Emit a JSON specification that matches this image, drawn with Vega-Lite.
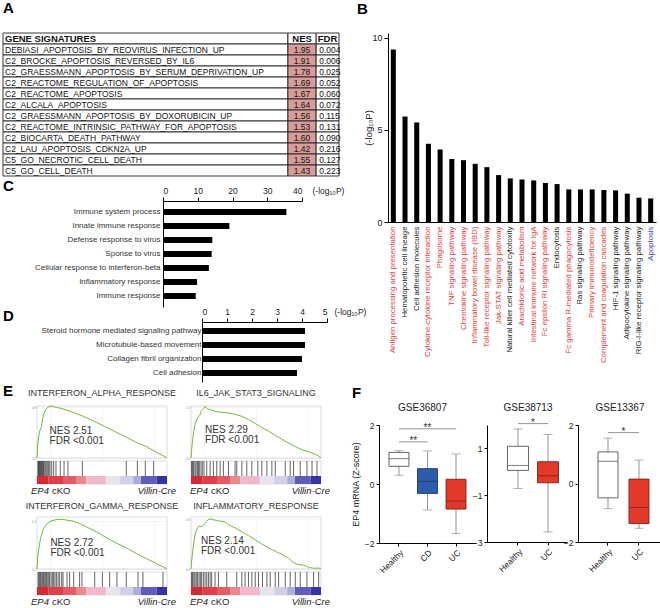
{
  "$schema": "https://vega.github.io/schema/vega-lite/v6.json",
  "padding": {"left": 2, "top": 0, "right": 0, "bottom": 0},
  "background": "#ffffff",
  "config": {
    "font": "Liberation Sans",
    "view": {"stroke": null},
    "axis": {"labelFont": "Liberation Sans", "titleFont": "Liberation Sans", "domainColor": "#000000", "tickColor": "#000000", "labelColor": "#222222", "titleColor": "#222222", "titleFontWeight": "normal", "grid": false, "domainWidth": 1, "tickWidth": 1},
    "title": {"font": "Liberation Sans", "color": "#000000"},
    "text": {"font": "Liberation Sans"}
  },
  "resolve": {"scale": {"color": "independent", "fill": "independent", "stroke": "independent"}},
  "datasets": {
    "one": [{"k": 1}],
    "tbl": [
      {"row": 0, "sig": "GENE SIGNATURES", "nes": "NES", "fdr": "FDR"},
      {"row": 1, "sig": "DEBIASI_APOPTOSIS_BY_REOVIRUS_INFECTION_UP", "nes": "1.95", "fdr": "0.004"},
      {"row": 2, "sig": "C2_BROCKE_APOPTOSIS_REVERSED_BY_IL6", "nes": "1.91", "fdr": "0.006"},
      {"row": 3, "sig": "C2_GRAESSMANN_APOPTOSIS_BY_SERUM_DEPRIVATION_UP", "nes": "1.78", "fdr": "0.025"},
      {"row": 4, "sig": "C2_REACTOME_REGULATION_OF_APOPTOSIS", "nes": "1.69", "fdr": "0.052"},
      {"row": 5, "sig": "C2_REACTOME_APOPTOSIS", "nes": "1.67", "fdr": "0.060"},
      {"row": 6, "sig": "C2_ALCALA_APOPTOSIS", "nes": "1.64", "fdr": "0.072"},
      {"row": 7, "sig": "C2_GRAESSMANN_APOPTOSIS_BY_DOXORUBICIN_UP", "nes": "1.56", "fdr": "0.115"},
      {"row": 8, "sig": "C2_REACTOME_INTRINSIC_PATHWAY_FOR_APOPTOSIS", "nes": "1.53", "fdr": "0.131"},
      {"row": 9, "sig": "C2_BIOCARTA_DEATH_PATHWAY", "nes": "1.60", "fdr": "0.090"},
      {"row": 10, "sig": "C2_LAU_APOPTOSIS_CDKN2A_UP", "nes": "1.42", "fdr": "0.216"},
      {"row": 11, "sig": "C5_GO_NECROTIC_CELL_DEATH", "nes": "1.55", "fdr": "0.127"},
      {"row": 12, "sig": "C5_GO_CELL_DEATH", "nes": "1.43", "fdr": "0.223"}
    ],
    "goc": [
      {"term": "Immune system process", "p": 35.5},
      {"term": "Innate immune response", "p": 19.1},
      {"term": "Defense response to virus", "p": 14.2},
      {"term": "Sponse to virus", "p": 14.0},
      {"term": "Cellular response to interferon-beta", "p": 13.2},
      {"term": "Inflammatory response", "p": 9.8},
      {"term": "Immune response", "p": 9.4}
    ],
    "god": [
      {"term": "Steroid hormone mediated signaling pathway", "p": 4.12},
      {"term": "Microtubule-based movement", "p": 4.12},
      {"term": "Collagen fibril organization", "p": 4.0},
      {"term": "Cell adhesion", "p": 3.8}
    ],
    "kegg": [
      {"pathway": "Antigen processing and presentation", "p": 9.37},
      {"pathway": "Hematopoietic cell lineage", "p": 5.73},
      {"pathway": "Cell adhesion molecules", "p": 5.41},
      {"pathway": "Cytokine-cytokine receptor interaction", "p": 4.25},
      {"pathway": "Phagosome", "p": 3.94},
      {"pathway": "TNF signaling pathway", "p": 3.42},
      {"pathway": "Chemokine signaling pathway", "p": 3.36},
      {"pathway": "Inflammatory bowel disease (IBD)", "p": 3.16},
      {"pathway": "Toll-like receptor signaling pathway", "p": 2.98},
      {"pathway": "Jak-STAT signaling pathway", "p": 2.55},
      {"pathway": "Natural killer cell mediated cytotoxity", "p": 2.37},
      {"pathway": "Arachidonic acid metabolism", "p": 2.31},
      {"pathway": "Intestinal immune network for IgA", "p": 2.26},
      {"pathway": "Fc epsilon RI signaling pathway", "p": 2.12},
      {"pathway": "Endocytosis", "p": 2.06},
      {"pathway": "Fc gamma R-mediated phagocytosis", "p": 1.77},
      {"pathway": "Ras signaling pathway", "p": 1.77},
      {"pathway": "Primary immunodeficiency", "p": 1.77},
      {"pathway": "Complement and coagulation cascades", "p": 1.74},
      {"pathway": "HIF-1 signaling pathway", "p": 1.72},
      {"pathway": "Adipocytokine signaling pathway", "p": 1.54},
      {"pathway": "RIG-I-like receptor signaling pathway", "p": 1.32},
      {"pathway": "Apoptosis", "p": 1.28}
    ],
    "cbar": [
      {"seg": 0, "x0": 0, "x1": 9}, {"seg": 1, "x0": 9, "x1": 20}, {"seg": 2, "x0": 20, "x1": 30},
      {"seg": 3, "x0": 30, "x1": 38}, {"seg": 4, "x0": 38, "x1": 53}, {"seg": 5, "x0": 53, "x1": 64},
      {"seg": 6, "x0": 64, "x1": 74}, {"seg": 7, "x0": 74, "x1": 80}, {"seg": 8, "x0": 80, "x1": 92},
      {"seg": 9, "x0": 92, "x1": 100}
    ],
    "es1": [{"x":0,"es":0},{"x":0.5,"es":0.17},{"x":1.0,"es":0.30},{"x":2.1,"es":0.43},{"x":3.1,"es":0.47},{"x":4.1,"es":0.59},{"x":5.1,"es":0.69},{"x":6.7,"es":0.76},{"x":8.5,"es":0.805},{"x":11,"es":0.815},{"x":14.9,"es":0.80},{"x":20,"es":0.774},{"x":27.7,"es":0.72},{"x":35.4,"es":0.66},{"x":45.6,"es":0.563},{"x":55.9,"es":0.458},{"x":66.2,"es":0.353},{"x":76.4,"es":0.247},{"x":84.1,"es":0.18},{"x":91.8,"es":0.09},{"x":96.9,"es":0.037},{"x":100,"es":0}],
    "es2": [{"x":0,"es":0},{"x":0.5,"es":0.123},{"x":1.3,"es":0.26},{"x":2.1,"es":0.373},{"x":3.1,"es":0.464},{"x":3.9,"es":0.51},{"x":4.6,"es":0.53},{"x":5.7,"es":0.57},{"x":6.7,"es":0.586},{"x":7.7,"es":0.645},{"x":8.7,"es":0.668},{"x":9.8,"es":0.686},{"x":10.8,"es":0.714},{"x":12.1,"es":0.69},{"x":13.4,"es":0.677},{"x":15.9,"es":0.664},{"x":18.5,"es":0.645},{"x":23.7,"es":0.632},{"x":28.8,"es":0.623},{"x":33.9,"es":0.605},{"x":39.1,"es":0.577},{"x":44.2,"es":0.532},{"x":49.4,"es":0.477},{"x":54.5,"es":0.423},{"x":59.6,"es":0.373},{"x":64.8,"es":0.314},{"x":69.9,"es":0.259},{"x":75.1,"es":0.205},{"x":80.2,"es":0.159},{"x":85.3,"es":0.114},{"x":90.5,"es":0.086},{"x":93.1,"es":0.068},{"x":95.6,"es":0.05},{"x":97.7,"es":0.032},{"x":100,"es":0}],
    "es3": [{"x":0,"es":0},{"x":0.5,"es":0.166},{"x":1.3,"es":0.284},{"x":2.1,"es":0.379},{"x":3.1,"es":0.474},{"x":4.6,"es":0.569},{"x":6.7,"es":0.64},{"x":9.2,"es":0.687},{"x":12.3,"es":0.711},{"x":16.2,"es":0.725},{"x":20,"es":0.725},{"x":23.8,"es":0.711},{"x":27.7,"es":0.701},{"x":32.8,"es":0.664},{"x":37.9,"es":0.616},{"x":45.6,"es":0.545},{"x":53.3,"es":0.46},{"x":61,"es":0.379},{"x":68.7,"es":0.308},{"x":76.4,"es":0.227},{"x":84.1,"es":0.152},{"x":91.8,"es":0.08},{"x":96.9,"es":0.033},{"x":100,"es":0}],
    "es4": [{"x":0,"es":0},{"x":0.5,"es":0.098},{"x":1.3,"es":0.216},{"x":2.1,"es":0.314},{"x":3.1,"es":0.412},{"x":4.1,"es":0.471},{"x":5.1,"es":0.498},{"x":6.4,"es":0.522},{"x":7.7,"es":0.51},{"x":9.5,"es":0.529},{"x":10.8,"es":0.549},{"x":12.1,"es":0.576},{"x":13.4,"es":0.6},{"x":15.4,"es":0.608},{"x":17.2,"es":0.596},{"x":19.8,"es":0.588},{"x":23.7,"es":0.576},{"x":26.2,"es":0.569},{"x":28.8,"es":0.537},{"x":33.9,"es":0.498},{"x":39.1,"es":0.451},{"x":44.2,"es":0.404},{"x":49.4,"es":0.353},{"x":54.5,"es":0.302},{"x":59.6,"es":0.255},{"x":64.8,"es":0.216},{"x":69.9,"es":0.176},{"x":75.1,"es":0.129},{"x":78.9,"es":0.078},{"x":81.5,"es":0.059},{"x":84,"es":0.051},{"x":86.6,"es":0.047},{"x":89.2,"es":0.031},{"x":90.5,"es":0.012},{"x":91.8,"es":0.02},{"x":93.1,"es":0.012},{"x":95.6,"es":0.008},{"x":98.2,"es":0.012},{"x":100,"es":0}],
    "hits1": [{"pos":0.8},{"pos":1.3},{"pos":1.8},{"pos":2.3},{"pos":2.8},{"pos":3.3},{"pos":3.8},{"pos":4.4},{"pos":4.9},{"pos":5.4},{"pos":6.2},{"pos":6.9},{"pos":7.7},{"pos":8.5},{"pos":9.2},{"pos":10},{"pos":11.3},{"pos":12.8},{"pos":14.6},{"pos":17.9},{"pos":20.8},{"pos":23.8},{"pos":34.9},{"pos":68.7},{"pos":77.2},{"pos":83.3},{"pos":89.7}],
    "hits2": [{"pos":0.5},{"pos":1.3},{"pos":2.1},{"pos":3.1},{"pos":3.9},{"pos":4.9},{"pos":5.7},{"pos":6.4},{"pos":7.7},{"pos":8.7},{"pos":10},{"pos":12.1},{"pos":14.7},{"pos":17.2},{"pos":19.8},{"pos":22.4},{"pos":24.9},{"pos":28.8},{"pos":33.9},{"pos":35.2},{"pos":39.1},{"pos":42.9},{"pos":46.8},{"pos":51.4},{"pos":54.5},{"pos":58.4},{"pos":62.2},{"pos":64.8},{"pos":72.5},{"pos":76.3},{"pos":78.9},{"pos":84},{"pos":89.2},{"pos":93.1},{"pos":96.9}],
    "hits3": [{"pos":1.0},{"pos":1.8},{"pos":2.6},{"pos":3.3},{"pos":4.1},{"pos":4.9},{"pos":5.6},{"pos":6.4},{"pos":7.2},{"pos":7.9},{"pos":9.0},{"pos":9.7},{"pos":10.8},{"pos":11.8},{"pos":12.8},{"pos":13.8},{"pos":14.9},{"pos":16.2},{"pos":17.4},{"pos":19},{"pos":20},{"pos":23.1},{"pos":25.1},{"pos":28.2},{"pos":32.8},{"pos":34.6},{"pos":44.4},{"pos":50.3},{"pos":55.9},{"pos":61.5},{"pos":68.7},{"pos":77.7},{"pos":81.5},{"pos":96.9}],
    "hits4": [{"pos":0.5},{"pos":1.3},{"pos":2.3},{"pos":3.1},{"pos":4.1},{"pos":5.1},{"pos":6.2},{"pos":7.2},{"pos":8.2},{"pos":9.5},{"pos":10.8},{"pos":12.1},{"pos":13.4},{"pos":14.7},{"pos":15.9},{"pos":18.5},{"pos":21.1},{"pos":27.5},{"pos":35.2},{"pos":39.1},{"pos":41.6},{"pos":44.2},{"pos":46.8},{"pos":49.4},{"pos":51.9},{"pos":55},{"pos":58.4},{"pos":60.9},{"pos":64.8},{"pos":67.4},{"pos":72.5},{"pos":76.3},{"pos":80.2},{"pos":84},{"pos":89.2},{"pos":94.3},{"pos":98.2}],
    "f1": [
      {"grp": "Healthy", "min": 0.3, "q1": 0.6, "med": 0.86, "q3": 1.07, "max": 1.13},
      {"grp": "CD", "min": -0.88, "q1": -0.32, "med": 0.09, "q3": 0.52, "max": 1.12},
      {"grp": "UC", "min": -1.68, "q1": -0.85, "med": -0.58, "q3": 0.16, "max": 1.02}
    ],
    "f2": [
      {"grp": "Healthy", "min": -0.71, "q1": 0.06, "med": 0.27, "q3": 1.09, "max": 1.83},
      {"grp": "UC", "min": -2.57, "q1": -0.47, "med": -0.17, "q3": 0.43, "max": 1.59}
    ],
    "f3": [
      {"grp": "Healthy", "min": -0.85, "q1": -0.49, "med": 0.76, "q3": 1.08, "max": 1.55},
      {"grp": "UC", "min": -1.53, "q1": -1.37, "med": -0.82, "q3": 0.15, "max": 0.8}
    ],
    "f1sig": [{"a": "Healthy", "b": "CD", "y": 1.43}, {"a": "Healthy", "b": "UC", "y": 1.87}],
    "f2sig": [{"a": "Healthy", "b": "UC", "y": 2.06}],
    "f3sig": [{"a": "Healthy", "b": "UC", "y": 1.74}]
  },
  "spacing": -15,
  "hconcat": [
    {
      "spacing": 2,
      "vconcat": [
        {
          "width": 302, "height": 143,
          "title": {"text": "A", "anchor": "start", "frame": "group", "fontSize": 15, "fontWeight": "bold", "offset": 17, "dx": -34},
          "data": {"name": "tbl"},
          "encoding": {"y": {"field": "row", "type": "ordinal", "axis": null, "scale": {"paddingInner": 0, "paddingOuter": 0}}},
          "layer": [
            {"mark": {"type": "rect", "fill": "#ffffff", "stroke": "#222222", "strokeWidth": 0.9},
             "encoding": {"x": {"datum": 0, "type": "quantitative", "scale": {"domain": [0, 100], "range": [-34, 302], "nice": false, "zero": false}, "axis": null}, "x2": {"datum": 84.8}}},
            {"mark": {"type": "rect", "stroke": "#222222", "strokeWidth": 0.9},
             "encoding": {"x": {"datum": 84.8, "type": "quantitative"}, "x2": {"datum": 93.2}, "fill": {"condition": {"test": "datum.row == 0", "value": "#ffffff"}, "value": "#d99c9a"}}},
            {"mark": {"type": "rect", "fill": "#ffffff", "stroke": "#222222", "strokeWidth": 0.9},
             "encoding": {"x": {"datum": 93.2, "type": "quantitative"}, "x2": {"datum": 100}}},
            {"transform": [{"filter": "datum.row > 0"}], "mark": {"type": "text", "align": "left", "fontSize": 8.5, "color": "#111111", "dx": 2},
             "encoding": {"x": {"datum": 0, "type": "quantitative"}, "text": {"field": "sig"}}},
            {"transform": [{"filter": "datum.row > 0"}], "mark": {"type": "text", "align": "center", "fontSize": 8.5, "color": "#111111"},
             "encoding": {"x": {"datum": 89, "type": "quantitative"}, "text": {"field": "nes"}}},
            {"transform": [{"filter": "datum.row > 0"}], "mark": {"type": "text", "align": "left", "fontSize": 8.5, "color": "#111111", "dx": 3},
             "encoding": {"x": {"datum": 93.2, "type": "quantitative"}, "text": {"field": "fdr"}}},
            {"transform": [{"filter": "datum.row == 0"}], "mark": {"type": "text", "align": "left", "fontSize": 9.5, "fontWeight": "bold", "color": "#111111", "dx": 2},
             "encoding": {"x": {"datum": 0, "type": "quantitative"}, "text": {"field": "sig"}}},
            {"transform": [{"filter": "datum.row == 0"}], "mark": {"type": "text", "align": "center", "fontSize": 9.5, "fontWeight": "bold", "color": "#111111"},
             "encoding": {"x": {"datum": 89, "type": "quantitative"}, "text": {"field": "nes"}}},
            {"transform": [{"filter": "datum.row == 0"}], "mark": {"type": "text", "align": "center", "fontSize": 9.5, "fontWeight": "bold", "color": "#111111"},
             "encoding": {"x": {"datum": 96.6, "type": "quantitative"}, "text": {"field": "fdr"}}}
          ]
        },
        {
          "spacing": 0,
          "vconcat": [
            {
              "width": 265, "height": 106,
              "title": {"text": "C", "anchor": "start", "frame": "group", "fontSize": 15, "fontWeight": "bold", "dx": -34, "offset": -8},
              "data": {"name": "goc"},
              "mark": {"type": "bar", "color": "#000000"},
              "encoding": {
                "y": {"field": "term", "type": "nominal", "sort": null, "scale": {"paddingInner": 0.57, "paddingOuter": 0.57},
                      "axis": {"title": null, "ticks": false, "labelFontSize": 8, "labelColor": "#333333", "labelPadding": 3, "labelLimit": 250, "offset": -126}},
                "x": {"field": "p", "type": "quantitative", "scale": {"domain": [0, 40], "range": [126, 265], "nice": false},
                      "axis": {"orient": "top", "values": [0, 10, 20, 30, 40], "labelFontSize": 8.5, "tickSize": 4, "labelPadding": 2,
                               "title": "(-log₁₀P)", "titleFontSize": 8.5, "titleAlign": "left", "titleAnchor": "start", "titleX": 275, "titleY": -6, "titleBaseline": "bottom"}}
              }
            },
            {
              "width": 290, "height": 60,
              "title": {"text": "D", "anchor": "start", "frame": "group", "fontSize": 15, "fontWeight": "bold", "dx": -34, "offset": -17},
              "data": {"name": "god"},
              "mark": {"type": "bar", "color": "#000000"},
              "encoding": {
                "y": {"field": "term", "type": "nominal", "sort": null, "scale": {"paddingInner": 0.57, "paddingOuter": 0.43},
                      "axis": {"title": null, "ticks": false, "labelFontSize": 8, "labelColor": "#333333", "labelPadding": 1, "labelLimit": 250, "offset": -165}},
                "x": {"field": "p", "type": "quantitative", "scale": {"domain": [0, 5], "range": [165, 290], "nice": false},
                      "axis": {"orient": "top", "values": [0, 1, 2, 3, 4, 5], "labelFontSize": 8.5, "tickSize": 4, "labelPadding": 2,
                               "title": "(-log₁₀P)", "titleFontSize": 8.5, "titleAlign": "left", "titleAnchor": "start", "titleX": 297, "titleY": -6, "titleBaseline": "bottom"}}
              }
            }
          ]
        },
        {
          "columns": 2,
          "bounds": "flush",
          "spacing": {"row": 33, "column": 24},
          "title": {"text": "E", "anchor": "start", "frame": "group", "fontSize": 15, "fontWeight": "bold", "dx": -34, "offset": -10},
          "concat": [
            {
              "width": 130, "height": 78,
              "title": {"text": "INTERFERON_ALPHA_RESPONSE", "fontSize": 9, "fontWeight": "normal", "color": "#333333", "frame": "group", "offset": 6},
              "layer": [
                {"data": {"name": "one"}, "mark": {"type": "rect", "fillOpacity": 0, "stroke": "#c8c8c8", "strokeWidth": 0.6},
                 "encoding": {
                   "x": {"datum": 0, "type": "quantitative", "scale": {"domain": [0, 100], "nice": false, "zero": false}, "axis": {"values": [10,20,30,40,50,60,70,80,90], "labels": false, "ticks": false, "domain": false, "grid": true, "gridColor": "#ebebeb", "gridWidth": 0.5, "title": null}},
                   "x2": {"datum": 100},
                   "y": {"datum": 0, "type": "quantitative", "scale": {"domain": [-0.41, 0.82], "nice": false, "zero": false}, "axis": {"values": [0,0.1,0.2,0.3,0.4,0.5,0.6,0.7,0.8], "format": ".1f", "labelFontSize": 3.5, "labelColor": "#999999", "ticks": false, "domain": false, "labelPadding": 1, "grid": true, "gridColor": "#ebebeb", "gridWidth": 0.5, "title": null}},
                   "y2": {"datum": 0.82}}},
                {"data": {"name": "one"}, "mark": {"type": "rect", "fill": "#ffffff", "stroke": "#c8c8c8", "strokeWidth": 0.6},
                 "encoding": {"x": {"datum": 0, "type": "quantitative"}, "x2": {"datum": 100}, "y": {"datum": -0.0473, "type": "quantitative"}, "y2": {"datum": -0.41}}},
                {"data": {"name": "one"}, "mark": {"type": "rect", "fill": "#d6d6d6"},
                 "encoding": {"x": {"datum": 0, "type": "quantitative"}, "x2": {"datum": 2}, "y": {"datum": -0.0473, "type": "quantitative"}, "y2": {"datum": -0.2838}}},
                {"data": {"name": "hits1"}, "mark": {"type": "rule", "color": "#222222", "strokeWidth": 0.7},
                 "encoding": {"x": {"field": "pos", "type": "quantitative"}, "y": {"datum": -0.0473, "type": "quantitative"}, "y2": {"datum": -0.2838}}},
                {"data": {"name": "cbar"}, "mark": {"type": "rect"},
                 "encoding": {"x": {"field": "x0", "type": "quantitative"}, "x2": {"field": "x1"}, "y": {"datum": -0.2838, "type": "quantitative"}, "y2": {"datum": -0.41},
                              "color": {"field": "seg", "type": "ordinal", "scale": {"range": ["#d42a34","#df3f4b","#e35d68","#ea8791","#f1b8cb","#e9e3f0","#d2d0e8","#aeacd9","#5f5cba","#3633a5"]}, "legend": null}}},
                {"data": {"name": "es1"}, "mark": {"type": "line", "color": "#74b83c", "strokeWidth": 1},
                 "encoding": {"x": {"field": "x", "type": "quantitative"}, "y": {"field": "es", "type": "quantitative"}}},
                {"data": {"name": "one"}, "mark": {"type": "text", "text": "NES 2.51", "align": "left", "baseline": "middle", "fontSize": 10, "color": "#333333"},
                 "encoding": {"x": {"datum": 9.7, "type": "quantitative"}, "y": {"datum": 0.43, "type": "quantitative"}}},
                {"data": {"name": "one"}, "mark": {"type": "text", "text": "FDR <0.001", "align": "left", "baseline": "middle", "fontSize": 10, "color": "#333333"},
                 "encoding": {"x": {"datum": 9.7, "type": "quantitative"}, "y": {"datum": 0.27, "type": "quantitative"}}},
                {"data": {"name": "one"}, "mark": {"type": "text", "text": "EP4", "align": "left", "baseline": "top", "fontSize": 9.5, "fontStyle": "italic", "color": "#222222", "dx": -6, "dy": 2},
                 "encoding": {"x": {"datum": 0, "type": "quantitative"}, "y": {"datum": -0.41, "type": "quantitative"}}},
                {"data": {"name": "one"}, "mark": {"type": "text", "text": "cKO", "align": "left", "baseline": "top", "fontSize": 9.5, "color": "#222222", "dx": 15, "dy": 2},
                 "encoding": {"x": {"datum": 0, "type": "quantitative"}, "y": {"datum": -0.41, "type": "quantitative"}}},
                {"data": {"name": "one"}, "mark": {"type": "text", "text": "Villin-Cre", "align": "right", "baseline": "top", "fontSize": 9.5, "fontStyle": "italic", "color": "#222222", "dx": 9, "dy": 2},
                 "encoding": {"x": {"datum": 100, "type": "quantitative"}, "y": {"datum": -0.41, "type": "quantitative"}}}
              ]
            },
            {
              "width": 130, "height": 78,
              "title": {"text": "IL6_JAK_STAT3_SIGNALING", "fontSize": 9, "fontWeight": "normal", "color": "#333333", "frame": "group", "offset": 6},
              "layer": [
                {"data": {"name": "one"}, "mark": {"type": "rect", "fillOpacity": 0, "stroke": "#c8c8c8", "strokeWidth": 0.6},
                 "encoding": {
                   "x": {"datum": 0, "type": "quantitative", "scale": {"domain": [0, 100], "nice": false, "zero": false}, "axis": {"values": [10,20,30,40,50,60,70,80,90], "labels": false, "ticks": false, "domain": false, "grid": true, "gridColor": "#ebebeb", "gridWidth": 0.5, "title": null}},
                   "x2": {"datum": 100},
                   "y": {"datum": 0, "type": "quantitative", "scale": {"domain": [-0.36, 0.72], "nice": false, "zero": false}, "axis": {"values": [0,0.1,0.2,0.3,0.4,0.5,0.6,0.7], "format": ".1f", "labelFontSize": 3.5, "labelColor": "#999999", "ticks": false, "domain": false, "labelPadding": 1, "grid": true, "gridColor": "#ebebeb", "gridWidth": 0.5, "title": null}},
                   "y2": {"datum": 0.72}}},
                {"data": {"name": "one"}, "mark": {"type": "rect", "fill": "#ffffff", "stroke": "#c8c8c8", "strokeWidth": 0.6},
                 "encoding": {"x": {"datum": 0, "type": "quantitative"}, "x2": {"datum": 100}, "y": {"datum": -0.0415, "type": "quantitative"}, "y2": {"datum": -0.36}}},
                {"data": {"name": "one"}, "mark": {"type": "rect", "fill": "#d6d6d6"},
                 "encoding": {"x": {"datum": 0, "type": "quantitative"}, "x2": {"datum": 2}, "y": {"datum": -0.0415, "type": "quantitative"}, "y2": {"datum": -0.2492}}},
                {"data": {"name": "hits2"}, "mark": {"type": "rule", "color": "#222222", "strokeWidth": 0.7},
                 "encoding": {"x": {"field": "pos", "type": "quantitative"}, "y": {"datum": -0.0415, "type": "quantitative"}, "y2": {"datum": -0.2492}}},
                {"data": {"name": "cbar"}, "mark": {"type": "rect"},
                 "encoding": {"x": {"field": "x0", "type": "quantitative"}, "x2": {"field": "x1"}, "y": {"datum": -0.2492, "type": "quantitative"}, "y2": {"datum": -0.36},
                              "color": {"field": "seg", "type": "ordinal", "scale": {"range": ["#d42a34","#df3f4b","#e35d68","#ea8791","#f1b8cb","#e9e3f0","#d2d0e8","#aeacd9","#5f5cba","#3633a5"]}, "legend": null}}},
                {"data": {"name": "es2"}, "mark": {"type": "line", "color": "#74b83c", "strokeWidth": 1},
                 "encoding": {"x": {"field": "x", "type": "quantitative"}, "y": {"field": "es", "type": "quantitative"}}},
                {"data": {"name": "one"}, "mark": {"type": "text", "text": "NES 2.29", "align": "left", "baseline": "middle", "fontSize": 10, "color": "#333333"},
                 "encoding": {"x": {"datum": 10.8, "type": "quantitative"}, "y": {"datum": 0.386, "type": "quantitative"}}},
                {"data": {"name": "one"}, "mark": {"type": "text", "text": "FDR <0.001", "align": "left", "baseline": "middle", "fontSize": 10, "color": "#333333"},
                 "encoding": {"x": {"datum": 10.8, "type": "quantitative"}, "y": {"datum": 0.25, "type": "quantitative"}}},
                {"data": {"name": "one"}, "mark": {"type": "text", "text": "EP4", "align": "left", "baseline": "top", "fontSize": 9.5, "fontStyle": "italic", "color": "#222222", "dx": -1, "dy": 2},
                 "encoding": {"x": {"datum": 0, "type": "quantitative"}, "y": {"datum": -0.36, "type": "quantitative"}}},
                {"data": {"name": "one"}, "mark": {"type": "text", "text": "cKO", "align": "left", "baseline": "top", "fontSize": 9.5, "color": "#222222", "dx": 20, "dy": 2},
                 "encoding": {"x": {"datum": 0, "type": "quantitative"}, "y": {"datum": -0.36, "type": "quantitative"}}},
                {"data": {"name": "one"}, "mark": {"type": "text", "text": "Villin-Cre", "align": "right", "baseline": "top", "fontSize": 9.5, "fontStyle": "italic", "color": "#222222", "dx": 9, "dy": 2},
                 "encoding": {"x": {"datum": 100, "type": "quantitative"}, "y": {"datum": -0.36, "type": "quantitative"}}}
              ]
            },
            {
              "width": 130, "height": 78,
              "title": {"text": "INTERFERON_GAMMA_RESPONSE", "fontSize": 9, "fontWeight": "normal", "color": "#333333", "frame": "group", "offset": 6},
              "layer": [
                {"data": {"name": "one"}, "mark": {"type": "rect", "fillOpacity": 0, "stroke": "#c8c8c8", "strokeWidth": 0.6},
                 "encoding": {
                   "x": {"datum": 0, "type": "quantitative", "scale": {"domain": [0, 100], "nice": false, "zero": false}, "axis": {"values": [10,20,30,40,50,60,70,80,90], "labels": false, "ticks": false, "domain": false, "grid": true, "gridColor": "#ebebeb", "gridWidth": 0.5, "title": null}},
                   "x2": {"datum": 100},
                   "y": {"datum": 0, "type": "quantitative", "scale": {"domain": [-0.38, 0.76], "nice": false, "zero": false}, "axis": {"values": [0,0.1,0.2,0.3,0.4,0.5,0.6,0.7], "format": ".1f", "labelFontSize": 3.5, "labelColor": "#999999", "ticks": false, "domain": false, "labelPadding": 1, "grid": true, "gridColor": "#ebebeb", "gridWidth": 0.5, "title": null}},
                   "y2": {"datum": 0.76}}},
                {"data": {"name": "one"}, "mark": {"type": "rect", "fill": "#ffffff", "stroke": "#c8c8c8", "strokeWidth": 0.6},
                 "encoding": {"x": {"datum": 0, "type": "quantitative"}, "x2": {"datum": 100}, "y": {"datum": -0.0438, "type": "quantitative"}, "y2": {"datum": -0.38}}},
                {"data": {"name": "one"}, "mark": {"type": "rect", "fill": "#d6d6d6"},
                 "encoding": {"x": {"datum": 0, "type": "quantitative"}, "x2": {"datum": 2}, "y": {"datum": -0.0438, "type": "quantitative"}, "y2": {"datum": -0.2631}}},
                {"data": {"name": "hits3"}, "mark": {"type": "rule", "color": "#222222", "strokeWidth": 0.7},
                 "encoding": {"x": {"field": "pos", "type": "quantitative"}, "y": {"datum": -0.0438, "type": "quantitative"}, "y2": {"datum": -0.2631}}},
                {"data": {"name": "cbar"}, "mark": {"type": "rect"},
                 "encoding": {"x": {"field": "x0", "type": "quantitative"}, "x2": {"field": "x1"}, "y": {"datum": -0.2631, "type": "quantitative"}, "y2": {"datum": -0.38},
                              "color": {"field": "seg", "type": "ordinal", "scale": {"range": ["#d42a34","#df3f4b","#e35d68","#ea8791","#f1b8cb","#e9e3f0","#d2d0e8","#aeacd9","#5f5cba","#3633a5"]}, "legend": null}}},
                {"data": {"name": "es3"}, "mark": {"type": "line", "color": "#74b83c", "strokeWidth": 1},
                 "encoding": {"x": {"field": "x", "type": "quantitative"}, "y": {"field": "es", "type": "quantitative"}}},
                {"data": {"name": "one"}, "mark": {"type": "text", "text": "NES 2.72", "align": "left", "baseline": "middle", "fontSize": 10, "color": "#333333"},
                 "encoding": {"x": {"datum": 10.3, "type": "quantitative"}, "y": {"datum": 0.385, "type": "quantitative"}}},
                {"data": {"name": "one"}, "mark": {"type": "text", "text": "FDR <0.001", "align": "left", "baseline": "middle", "fontSize": 10, "color": "#333333"},
                 "encoding": {"x": {"datum": 10.3, "type": "quantitative"}, "y": {"datum": 0.232, "type": "quantitative"}}},
                {"data": {"name": "one"}, "mark": {"type": "text", "text": "EP4", "align": "left", "baseline": "top", "fontSize": 9.5, "fontStyle": "italic", "color": "#222222", "dx": -6, "dy": 2},
                 "encoding": {"x": {"datum": 0, "type": "quantitative"}, "y": {"datum": -0.38, "type": "quantitative"}}},
                {"data": {"name": "one"}, "mark": {"type": "text", "text": "cKO", "align": "left", "baseline": "top", "fontSize": 9.5, "color": "#222222", "dx": 15, "dy": 2},
                 "encoding": {"x": {"datum": 0, "type": "quantitative"}, "y": {"datum": -0.38, "type": "quantitative"}}},
                {"data": {"name": "one"}, "mark": {"type": "text", "text": "Villin-Cre", "align": "right", "baseline": "top", "fontSize": 9.5, "fontStyle": "italic", "color": "#222222", "dx": 9, "dy": 2},
                 "encoding": {"x": {"datum": 100, "type": "quantitative"}, "y": {"datum": -0.38, "type": "quantitative"}}}
              ]
            },
            {
              "width": 130, "height": 78,
              "title": {"text": "INFLAMMATORY_RESPONSE", "fontSize": 9, "fontWeight": "normal", "color": "#333333", "frame": "group", "offset": 6},
              "layer": [
                {"data": {"name": "one"}, "mark": {"type": "rect", "fillOpacity": 0, "stroke": "#c8c8c8", "strokeWidth": 0.6},
                 "encoding": {
                   "x": {"datum": 0, "type": "quantitative", "scale": {"domain": [0, 100], "nice": false, "zero": false}, "axis": {"values": [10,20,30,40,50,60,70,80,90], "labels": false, "ticks": false, "domain": false, "grid": true, "gridColor": "#ebebeb", "gridWidth": 0.5, "title": null}},
                   "x2": {"datum": 100},
                   "y": {"datum": 0, "type": "quantitative", "scale": {"domain": [-0.315, 0.63], "nice": false, "zero": false}, "axis": {"values": [0,0.1,0.2,0.3,0.4,0.5,0.6], "format": ".1f", "labelFontSize": 3.5, "labelColor": "#999999", "ticks": false, "domain": false, "labelPadding": 1, "grid": true, "gridColor": "#ebebeb", "gridWidth": 0.5, "title": null}},
                   "y2": {"datum": 0.63}}},
                {"data": {"name": "one"}, "mark": {"type": "rect", "fill": "#ffffff", "stroke": "#c8c8c8", "strokeWidth": 0.6},
                 "encoding": {"x": {"datum": 0, "type": "quantitative"}, "x2": {"datum": 100}, "y": {"datum": -0.0363, "type": "quantitative"}, "y2": {"datum": -0.315}}},
                {"data": {"name": "one"}, "mark": {"type": "rect", "fill": "#d6d6d6"},
                 "encoding": {"x": {"datum": 0, "type": "quantitative"}, "x2": {"datum": 2}, "y": {"datum": -0.0363, "type": "quantitative"}, "y2": {"datum": -0.2181}}},
                {"data": {"name": "hits4"}, "mark": {"type": "rule", "color": "#222222", "strokeWidth": 0.7},
                 "encoding": {"x": {"field": "pos", "type": "quantitative"}, "y": {"datum": -0.0363, "type": "quantitative"}, "y2": {"datum": -0.2181}}},
                {"data": {"name": "cbar"}, "mark": {"type": "rect"},
                 "encoding": {"x": {"field": "x0", "type": "quantitative"}, "x2": {"field": "x1"}, "y": {"datum": -0.2181, "type": "quantitative"}, "y2": {"datum": -0.315},
                              "color": {"field": "seg", "type": "ordinal", "scale": {"range": ["#d42a34","#df3f4b","#e35d68","#ea8791","#f1b8cb","#e9e3f0","#d2d0e8","#aeacd9","#5f5cba","#3633a5"]}, "legend": null}}},
                {"data": {"name": "es4"}, "mark": {"type": "line", "color": "#74b83c", "strokeWidth": 1},
                 "encoding": {"x": {"field": "x", "type": "quantitative"}, "y": {"field": "es", "type": "quantitative"}}},
                {"data": {"name": "one"}, "mark": {"type": "text", "text": "NES 2.14", "align": "left", "baseline": "middle", "fontSize": 10, "color": "#333333"},
                 "encoding": {"x": {"datum": 7.7, "type": "quantitative"}, "y": {"datum": 0.345, "type": "quantitative"}}},
                {"data": {"name": "one"}, "mark": {"type": "text", "text": "FDR <0.001", "align": "left", "baseline": "middle", "fontSize": 10, "color": "#333333"},
                 "encoding": {"x": {"datum": 7.7, "type": "quantitative"}, "y": {"datum": 0.218, "type": "quantitative"}}},
                {"data": {"name": "one"}, "mark": {"type": "text", "text": "EP4", "align": "left", "baseline": "top", "fontSize": 9.5, "fontStyle": "italic", "color": "#222222", "dx": -1, "dy": 2},
                 "encoding": {"x": {"datum": 0, "type": "quantitative"}, "y": {"datum": -0.315, "type": "quantitative"}}},
                {"data": {"name": "one"}, "mark": {"type": "text", "text": "cKO", "align": "left", "baseline": "top", "fontSize": 9.5, "color": "#222222", "dx": 20, "dy": 2},
                 "encoding": {"x": {"datum": 0, "type": "quantitative"}, "y": {"datum": -0.315, "type": "quantitative"}}},
                {"data": {"name": "one"}, "mark": {"type": "text", "text": "Villin-Cre", "align": "right", "baseline": "top", "fontSize": 9.5, "fontStyle": "italic", "color": "#222222", "dx": 9, "dy": 2},
                 "encoding": {"x": {"datum": 100, "type": "quantitative"}, "y": {"datum": -0.315, "type": "quantitative"}}}
              ]
            }
          ]
        }
      ]
    },
    {
      "spacing": 23,
      "vconcat": [
        {
          "width": 277, "height": 189,
          "title": {"text": "B", "anchor": "start", "frame": "group", "fontSize": 15, "fontWeight": "bold", "dx": -22, "offset": 16},
          "data": {"name": "kegg"},
          "mark": {"type": "bar", "color": "#000000"},
          "encoding": {
            "x": {"field": "pathway", "type": "nominal", "sort": null, "scale": {"range": [9, 277], "paddingInner": 0.57, "paddingOuter": 0.24},
                  "axis": {"title": null, "labelAngle": -90, "labelFontSize": 7.8, "ticks": false, "labelPadding": 4, "labelLimit": 250,
                           "labelColor": {"condition": [
                             {"test": "datum.value === 'Apoptosis'", "value": "#3d3db0"},
                             {"test": "indexof(['Antigen processing and presentation','Cytokine-cytokine receptor interaction','Phagosome','TNF signaling pathway','Chemokine signaling pathway','Inflammatory bowel disease (IBD)','Toll-like receptor signaling pathway','Jak-STAT signaling pathway','Arachidonic acid metabolism','Intestinal immune network for IgA','Fc epsilon RI signaling pathway','Fc gamma R-mediated phagocytosis','Primary immunodeficiency','Complement and coagulation cascades'], datum.value) >= 0", "value": "#e23b3b"}
                           ], "value": "#222222"}}},
            "y": {"field": "p", "type": "quantitative", "scale": {"domain": [0, 10.27], "nice": false},
                  "axis": {"values": [0, 5, 10], "title": "(-log₁₀P)", "titleFontSize": 9.5, "labelFontSize": 9, "tickSize": 4, "titlePadding": -2, "offset": -9}}
          }
        },
        {
          "spacing": 11,
          "bounds": "flush",
          "hconcat": [
            {
              "width": 97, "height": 118,
              "encoding": {"x": {"field": "grp", "type": "nominal", "scale": {"domain": ["Healthy", "CD", "UC"], "paddingInner": 0.3, "paddingOuter": 0.35},
                                 "axis": {"title": null, "labelAngle": -45, "labelFontSize": 8.5, "tickSize": 3, "labelPadding": 2}}},
              "layer": [
                {"data": {"name": "f1"}, "mark": {"type": "rule", "color": "#777777", "strokeWidth": 0.8},
                 "encoding": {"y": {"field": "min", "type": "quantitative", "scale": {"domain": [-2, 2], "nice": false},
                                    "axis": {"values": [-2, -1, 0, 1, 2], "labelFontSize": 8.5, "tickSize": 3, "title": "EP4 mRNA (Z-score)", "titleFontSize": 9, "titlePadding": 4}},
                              "y2": {"field": "max"}}},
                {"data": {"name": "f1"}, "mark": {"type": "tick", "color": "#777777", "size": 9, "thickness": 0.8}, "encoding": {"y": {"field": "min", "type": "quantitative"}}},
                {"data": {"name": "f1"}, "mark": {"type": "tick", "color": "#777777", "size": 9, "thickness": 0.8}, "encoding": {"y": {"field": "max", "type": "quantitative"}}},
                {"data": {"name": "f1"}, "mark": {"type": "bar", "strokeWidth": 0.9},
                 "encoding": {"y": {"field": "q1", "type": "quantitative"}, "y2": {"field": "q3"},
                              "fill": {"field": "grp", "type": "nominal", "scale": {"domain": ["Healthy", "CD", "UC"], "range": ["#ffffff", "#2d5ca8", "#e2392a"]}, "legend": null},
                              "stroke": {"field": "grp", "type": "nominal", "scale": {"domain": ["Healthy", "CD", "UC"], "range": ["#555555", "#1b386c", "#7b2216"]}, "legend": null}}},
                {"data": {"name": "f1"}, "mark": {"type": "tick", "size": 20, "thickness": 1.1},
                 "encoding": {"y": {"field": "med", "type": "quantitative"},
                              "color": {"field": "grp", "type": "nominal", "scale": {"domain": ["Healthy", "CD", "UC"], "range": ["#555555", "#1b386c", "#7b2216"]}, "legend": null}}},
                {"data": {"name": "f1sig"}, "mark": {"type": "rule", "color": "#777777", "strokeWidth": 0.8},
                 "encoding": {"x": {"field": "a", "type": "nominal"}, "x2": {"field": "b"}, "y": {"field": "y", "type": "quantitative"}}},
                {"data": {"name": "one"}, "mark": {"type": "text", "text": "**", "fontSize": 10, "color": "#333333", "baseline": "alphabetic", "dx": 14.3, "dy": 2},
                 "encoding": {"x": {"datum": "Healthy", "type": "nominal"}, "y": {"datum": 1.43, "type": "quantitative"}}},
                {"data": {"name": "one"}, "mark": {"type": "text", "text": "**", "fontSize": 10, "color": "#333333", "baseline": "alphabetic", "dy": 2},
                 "encoding": {"x": {"datum": "CD", "type": "nominal"}, "y": {"datum": 1.87, "type": "quantitative"}}},
                {"data": {"name": "one"}, "mark": {"type": "text", "text": "GSE36807", "fontSize": 10, "color": "#222222", "align": "center", "baseline": "middle", "dx": -5, "dy": -17},
                 "encoding": {"x": {"datum": "CD", "type": "nominal"}, "y": {"datum": 2, "type": "quantitative"}}},
                {"data": {"name": "one"}, "mark": {"type": "text", "text": "F", "fontSize": 15, "fontWeight": "bold", "color": "#000000", "align": "left", "baseline": "middle", "dx": -47, "dy": -32},
                 "encoding": {"x": {"datum": "Healthy", "type": "nominal"}, "y": {"datum": 2, "type": "quantitative"}}}
              ]
            },
            {
              "width": 80, "height": 117,
              "encoding": {"x": {"field": "grp", "type": "nominal", "scale": {"domain": ["Healthy", "UC"], "paddingInner": 0.3, "paddingOuter": 0.483, "align": 0.707},
                                 "axis": {"title": null, "labelAngle": -45, "labelFontSize": 8.5, "tickSize": 3, "labelPadding": 2}}},
              "layer": [
                {"data": {"name": "f2"}, "mark": {"type": "rule", "color": "#777777", "strokeWidth": 0.8},
                 "encoding": {"y": {"field": "min", "type": "quantitative", "scale": {"domain": [-3, 2], "nice": false},
                                    "axis": {"values": [-3, -2, -1, 0, 1, 2], "labelFontSize": 8.5, "tickSize": 3, "title": null}},
                              "y2": {"field": "max"}}},
                {"data": {"name": "f2"}, "mark": {"type": "tick", "color": "#777777", "size": 9, "thickness": 0.8}, "encoding": {"y": {"field": "min", "type": "quantitative"}}},
                {"data": {"name": "f2"}, "mark": {"type": "tick", "color": "#777777", "size": 9, "thickness": 0.8}, "encoding": {"y": {"field": "max", "type": "quantitative"}}},
                {"data": {"name": "f2"}, "mark": {"type": "bar", "strokeWidth": 0.9},
                 "encoding": {"y": {"field": "q1", "type": "quantitative"}, "y2": {"field": "q3"},
                              "fill": {"field": "grp", "type": "nominal", "scale": {"domain": ["Healthy", "CD", "UC"], "range": ["#ffffff", "#2d5ca8", "#e2392a"]}, "legend": null},
                              "stroke": {"field": "grp", "type": "nominal", "scale": {"domain": ["Healthy", "CD", "UC"], "range": ["#555555", "#1b386c", "#7b2216"]}, "legend": null}}},
                {"data": {"name": "f2"}, "mark": {"type": "tick", "size": 21, "thickness": 1.1},
                 "encoding": {"y": {"field": "med", "type": "quantitative"},
                              "color": {"field": "grp", "type": "nominal", "scale": {"domain": ["Healthy", "CD", "UC"], "range": ["#555555", "#1b386c", "#7b2216"]}, "legend": null}}},
                {"data": {"name": "f2sig"}, "mark": {"type": "rule", "color": "#777777", "strokeWidth": 0.8},
                 "encoding": {"x": {"field": "a", "type": "nominal"}, "x2": {"field": "b"}, "y": {"field": "y", "type": "quantitative"}}},
                {"data": {"name": "one"}, "mark": {"type": "text", "text": "*", "fontSize": 10, "color": "#333333", "baseline": "alphabetic", "dx": 15, "dy": 2},
                 "encoding": {"x": {"datum": "Healthy", "type": "nominal"}, "y": {"datum": 2.06, "type": "quantitative"}}},
                {"data": {"name": "one"}, "mark": {"type": "text", "text": "GSE38713", "fontSize": 10, "color": "#222222", "align": "center", "baseline": "middle", "dx": 10, "dy": -17},
                 "encoding": {"x": {"datum": "Healthy", "type": "nominal"}, "y": {"datum": 2, "type": "quantitative"}}}
              ]
            },
            {
              "width": 82, "height": 117,
              "encoding": {"x": {"field": "grp", "type": "nominal", "scale": {"domain": ["Healthy", "UC"], "paddingInner": 0.355, "paddingOuter": 0.5, "align": 0.645},
                                 "axis": {"title": null, "labelAngle": -45, "labelFontSize": 8.5, "tickSize": 3, "labelPadding": 2}}},
              "layer": [
                {"data": {"name": "f3"}, "mark": {"type": "rule", "color": "#777777", "strokeWidth": 0.8},
                 "encoding": {"y": {"field": "min", "type": "quantitative", "scale": {"domain": [-2, 2], "nice": false},
                                    "axis": {"values": [-2, -1, 0, 1, 2], "labelFontSize": 8.5, "tickSize": 3, "title": null}},
                              "y2": {"field": "max"}}},
                {"data": {"name": "f3"}, "mark": {"type": "tick", "color": "#777777", "size": 9, "thickness": 0.8}, "encoding": {"y": {"field": "min", "type": "quantitative"}}},
                {"data": {"name": "f3"}, "mark": {"type": "tick", "color": "#777777", "size": 9, "thickness": 0.8}, "encoding": {"y": {"field": "max", "type": "quantitative"}}},
                {"data": {"name": "f3"}, "mark": {"type": "bar", "strokeWidth": 0.9},
                 "encoding": {"y": {"field": "q1", "type": "quantitative"}, "y2": {"field": "q3"},
                              "fill": {"field": "grp", "type": "nominal", "scale": {"domain": ["Healthy", "CD", "UC"], "range": ["#ffffff", "#2d5ca8", "#e2392a"]}, "legend": null},
                              "stroke": {"field": "grp", "type": "nominal", "scale": {"domain": ["Healthy", "CD", "UC"], "range": ["#555555", "#1b386c", "#7b2216"]}, "legend": null}}},
                {"data": {"name": "f3"}, "mark": {"type": "tick", "size": 20, "thickness": 1.1},
                 "encoding": {"y": {"field": "med", "type": "quantitative"},
                              "color": {"field": "grp", "type": "nominal", "scale": {"domain": ["Healthy", "CD", "UC"], "range": ["#555555", "#1b386c", "#7b2216"]}, "legend": null}}},
                {"data": {"name": "f3sig"}, "mark": {"type": "rule", "color": "#777777", "strokeWidth": 0.8},
                 "encoding": {"x": {"field": "a", "type": "nominal"}, "x2": {"field": "b"}, "y": {"field": "y", "type": "quantitative"}}},
                {"data": {"name": "one"}, "mark": {"type": "text", "text": "*", "fontSize": 10, "color": "#333333", "baseline": "alphabetic", "dx": 15.5, "dy": 2},
                 "encoding": {"x": {"datum": "Healthy", "type": "nominal"}, "y": {"datum": 1.74, "type": "quantitative"}}},
                {"data": {"name": "one"}, "mark": {"type": "text", "text": "GSE13367", "fontSize": 10, "color": "#222222", "align": "center", "baseline": "middle", "dx": 12, "dy": -17},
                 "encoding": {"x": {"datum": "Healthy", "type": "nominal"}, "y": {"datum": 2, "type": "quantitative"}}}
              ]
            }
          ]
        }
      ]
    }
  ]
}
